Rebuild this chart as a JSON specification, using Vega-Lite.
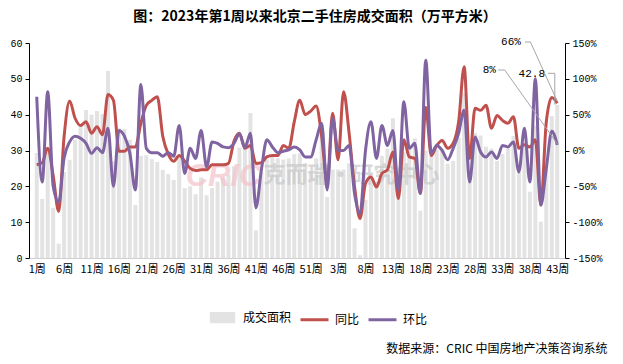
{
  "$schema": "https://vega.github.io/schema/vega-lite/v6.json",
  "width": 536,
  "height": 215,
  "autosize": {"type": "none"},
  "padding": {"left": 29, "top": 43, "right": 58, "bottom": 106},
  "background": "white",
  "title": {"text": "图：2023年第1周以来北京二手住房成交面积（万平方米）", "font": "Noto Sans CJK SC", "fontSize": 14, "fontWeight": "bold", "color": "#000000", "anchor": "middle", "frame": "group", "dx": 18, "offset": 12},
  "config": {"view": {"stroke": null}, "axis": {"grid": false}},
  "datasets": {
    "weeks": [
      {"i":1,"成交面积":29.3,"同比":-20,"环比":75},
      {"i":2,"成交面积":16.5,"同比":-17,"环比":-44},
      {"i":3,"成交面积":30.0,"同比":3,"环比":82},
      {"i":4,"成交面积":14.0,"同比":-35,"环比":-50},
      {"i":5,"成交面积":4.0,"同比":-85,"环比":-72},
      {"i":6,"成交面积":24.0,"同比":20,"环比":-10},
      {"i":7,"成交面积":27.4,"同比":69,"环比":12},
      {"i":8,"成交面积":33.0,"同比":45,"环比":20},
      {"i":9,"成交面积":37.0,"同比":35,"环比":17},
      {"i":10,"成交面积":41.3,"同比":40,"环比":10},
      {"i":11,"成交面积":40.0,"同比":24,"环比":-4},
      {"i":12,"成交面积":41.0,"同比":33,"环比":4},
      {"i":13,"成交面积":40.2,"同比":22,"环比":-3},
      {"i":14,"成交面积":52.2,"同比":78,"环比":31},
      {"i":15,"成交面积":27.0,"同比":70,"环比":-50},
      {"i":16,"成交面积":36.2,"同比":-1,"环比":28},
      {"i":17,"成交面积":36.0,"同比":-1,"环比":20},
      {"i":18,"成交面积":33.0,"同比":5,"环比":-4},
      {"i":19,"成交面积":14.8,"同比":5,"环比":-55},
      {"i":20,"成交面积":28.5,"同比":38,"环比":92},
      {"i":21,"成交面积":28.7,"同比":63,"环比":3},
      {"i":22,"成交面积":27.6,"同比":70,"环比":-3},
      {"i":23,"成交面积":26.8,"同比":75,"环比":-3},
      {"i":24,"成交面积":24.6,"同比":20,"环比":-8},
      {"i":25,"成交面积":23.4,"同比":-5,"环比":-3},
      {"i":26,"成交面积":21.8,"同比":-15,"环比":-8},
      {"i":27,"成交面积":28.5,"同比":-7,"环比":35},
      {"i":28,"成交面积":19.5,"同比":-15,"环比":-32},
      {"i":29,"成交面积":20.0,"同比":-25,"环比":3},
      {"i":30,"成交面积":17.8,"同比":-28,"环比":-11},
      {"i":31,"成交面积":22.5,"同比":-27,"环比":28},
      {"i":32,"成交面积":17.5,"同比":-27,"环比":-23},
      {"i":33,"成交面积":19.5,"同比":-20,"环比":12},
      {"i":34,"成交面积":21.3,"同比":-20,"环比":10},
      {"i":35,"成交面积":22.4,"同比":-20,"环比":5},
      {"i":36,"成交面积":23.3,"同比":-18,"环比":4},
      {"i":37,"成交面积":25.6,"同比":13,"环比":10},
      {"i":38,"成交面积":30.8,"同比":24,"环比":23},
      {"i":39,"成交面积":32.5,"同比":3,"环比":4},
      {"i":40,"成交面积":40.5,"同比":7,"环比":24},
      {"i":41,"成交面积":7.7,"同比":-18,"环比":-80},
      {"i":42,"成交面积":24.0,"同比":-17,"环比":-27},
      {"i":43,"成交面积":27.5,"同比":-9,"环比":15},
      {"i":44,"成交面积":28.5,"同比":-7,"环比":5},
      {"i":45,"成交面积":27.8,"同比":-7,"环比":-3},
      {"i":46,"成交面积":27.5,"同比":7,"环比":-1},
      {"i":47,"成交面积":27.8,"同比":3,"环比":1},
      {"i":48,"成交面积":29.0,"同比":40,"环比":5},
      {"i":49,"成交面积":29.2,"同比":70,"环比":1},
      {"i":50,"成交面积":26.5,"同比":50,"环比":-9},
      {"i":51,"成交面积":24.2,"同比":55,"环比":-9},
      {"i":52,"成交面积":27.8,"同比":62,"环比":15},
      {"i":53,"成交面积":36.0,"同比":20,"环比":38},
      {"i":54,"成交面积":17.0,"同比":-45,"环比":-55},
      {"i":55,"成交面积":24.7,"同比":52,"环比":45},
      {"i":56,"成交面积":24.7,"同比":-13,"环比":0},
      {"i":57,"成交面积":24.7,"同比":82,"环比":0},
      {"i":58,"成交面积":26.4,"同比":25,"环比":7},
      {"i":59,"成交面积":8.3,"同比":-50,"环比":-60},
      {"i":60,"成交面积":0.8,"同比":-95,"环比":-88},
      {"i":61,"成交面积":16.2,"同比":-46,"环比":0},
      {"i":62,"成交面积":23.5,"同比":-37,"环比":40},
      {"i":63,"成交面积":21.0,"同比":-51,"环比":-11},
      {"i":64,"成交面积":28.5,"同比":-32,"环比":35},
      {"i":65,"成交面积":30.5,"同比":-27,"环比":7},
      {"i":66,"成交面积":39.0,"同比":-2,"环比":28},
      {"i":67,"成交面积":17.6,"同比":-67,"环比":-55},
      {"i":68,"成交面积":29.5,"同比":15,"环比":68},
      {"i":69,"成交面积":30.4,"同比":-9,"环比":3},
      {"i":70,"成交面积":33.4,"同比":-11,"环比":10},
      {"i":71,"成交面积":13.2,"同比":-60,"环比":-60},
      {"i":72,"成交面积":30.0,"同比":60,"环比":126},
      {"i":73,"成交面积":28.5,"同比":-7,"环比":-4},
      {"i":74,"成交面积":30.2,"同比":7,"环比":7},
      {"i":75,"成交面积":30.2,"同比":14,"环比":0},
      {"i":76,"成交面积":26.3,"同比":3,"环比":-13},
      {"i":77,"成交面积":27.1,"同比":10,"环比":3},
      {"i":78,"成交面积":33.6,"同比":40,"环比":24},
      {"i":79,"成交面积":46.0,"同比":117,"环比":56},
      {"i":80,"成交面积":29.3,"同比":-11,"环比":-44},
      {"i":81,"成交面积":34.9,"同比":59,"环比":19},
      {"i":82,"成交面积":34.2,"同比":56,"环比":-2},
      {"i":83,"成交面积":31.1,"同比":63,"环比":-9},
      {"i":84,"成交面积":30.5,"同比":31,"环比":-2},
      {"i":85,"成交面积":27.1,"同比":49,"环比":-11},
      {"i":86,"成交面积":29.0,"同比":42,"环比":7},
      {"i":87,"成交面积":30.5,"同比":38,"环比":5},
      {"i":88,"成交面积":34.1,"同比":47,"环比":12},
      {"i":89,"成交面积":23.9,"同比":3,"环比":-30},
      {"i":90,"成交面积":31.3,"同比":8,"环比":31},
      {"i":91,"成交面积":18.5,"同比":5,"环比":-44},
      {"i":92,"成交面积":37.0,"同比":15,"环比":100},
      {"i":93,"成交面积":10.1,"同比":-76,"环比":-76},
      {"i":94,"成交面积":27.0,"同比":40,"环比":-25},
      {"i":95,"成交面积":39.6,"同比":74,"环比":27},
      {"i":96,"成交面积":42.8,"同比":66,"环比":8}
    ],
    "labels": [
      {"i": 87.55, "pct": 151.4, "t": "66%"},
      {"i": 83.6, "pct": 112.3, "t": "8%"},
      {"i": 91.35, "pct": 106.3, "t": "42.8"}
    ],
    "leaders": [
      {"i": 90.1, "i2": 91.1, "pct": 151.4, "pct2": 151.4},
      {"i": 91.1, "i2": 96.05, "pct": 151.4, "pct2": 68},
      {"i": 85.2, "i2": 86.4, "pct": 112.3, "pct2": 112.3},
      {"i": 86.4, "i2": 96.05, "pct": 112.3, "pct2": 9},
      {"i": 94.3, "i2": 95.55, "pct": 107.7, "pct2": 107.7},
      {"i": 95.55, "i2": 95.55, "pct": 107.7, "pct2": 64}
    ],
    "mark1": [{"i": 35.1, "pct": -37, "t": "CRIC"}],
    "mark2": [{"i": 42.4, "pct": -34, "t": "克而瑞·研究中心"}]
  },
  "data": {"name": "weeks"},
  "encoding": {
    "x": {
      "field": "i", "type": "quantitative",
      "scale": {"domain": [0.5, 96.5], "nice": false, "zero": false},
      "axis": {
        "values": [1,6,11,16,21,26,31,36,41,46,51,56,61,66,71,76,81,86,91,96],
        "labelExpr": "datum.value <= 53 ? datum.value + '周' : (datum.value - 53) + '周'",
        "ticks": false, "domainColor": "#d0d0d0", "labelColor": "#000000",
        "labelFont": "Noto Sans CJK SC", "labelFontSize": 11, "labelPadding": 5,
        "labelFlush": false, "labelOverlap": false,
        "title": "数据来源：CRIC 中国房地产决策咨询系统",
        "titleX": 578, "titleY": 90, "titleAlign": "right", "titleBaseline": "middle",
        "titleFont": "Noto Sans CJK SC", "titleFontSize": 12, "titleFontWeight": "normal", "titleColor": "#000000"
      }
    }
  },
  "layer": [
    {
      "mark": {"type": "bar", "size": 4},
      "encoding": {
        "y": {
          "field": "成交面积", "type": "quantitative",
          "scale": {"domain": [0, 60], "nice": false, "zero": true},
          "axis": {"orient": "left", "values": [0,10,20,30,40,50,60], "title": null, "tickSize": 4,
                   "domainColor": "#000000", "tickColor": "#000000", "labelColor": "#000000",
                   "labelFont": "Liberation Mono", "labelFontSize": 10, "labelPadding": 3}
        },
        "color": {
          "datum": "成交面积", "type": "nominal",
          "scale": {"domain": ["成交面积", "同比", "环比"], "range": ["#e3e3e3", "#c0504d", "#8064a2"]},
          "legend": {
            "orient": "none", "legendX": 178, "legendY": 259, "direction": "horizontal",
            "title": null, "labelFont": "Noto Sans CJK SC", "labelFontSize": 12, "labelColor": "#000000",
            "symbolSize": 784, "columnPadding": 2, "labelOffset": 5,
            "encode": {
              "symbols": {
                "update": {
                  "shape": {"signal": "datum.label === '成交面积' ? 'M-0.8,-0.3H0.8V0.3H-0.8Z' : 'M-1,0H1'"},
                  "fill": {"signal": "datum.label === '成交面积' ? '#e3e3e3' : 'transparent'"},
                  "stroke": {"signal": "datum.label === '成交面积' ? 'transparent' : (datum.label === '同比' ? '#c0504d' : '#8064a2')"},
                  "strokeWidth": {"value": 3},
                  "size": {"value": 784},
                  "opacity": {"value": 1}
                }
              }
            }
          }
        }
      }
    },
    {
      "layer": [
        {
          "data": {"name": "mark1"},
          "mark": {"type": "text", "font": "Liberation Sans", "fontSize": 31, "fontWeight": "bold", "fontStyle": "italic", "color": "#f4c3ca", "opacity": 0.7, "align": "center", "baseline": "middle"},
          "encoding": {
            "y": {"field": "pct", "type": "quantitative", "scale": {"domain": [-150, 150], "nice": false},
                  "axis": {"orient": "right", "values": [-150,-100,-50,0,50,100,150], "labelExpr": "datum.value + '%'", "title": null, "tickSize": 4,
                           "domainColor": "#000000", "tickColor": "#000000", "labelColor": "#000000",
                           "labelFont": "Liberation Mono", "labelFontSize": 10, "labelPadding": 3}},
            "text": {"field": "t"}
          }
        },
        {
          "data": {"name": "mark2"},
          "mark": {"type": "text", "font": "Noto Sans CJK SC", "fontSize": 22, "fontWeight": "bold", "color": "#c8c8c8", "opacity": 0.7, "align": "left", "baseline": "middle"},
          "encoding": {
            "y": {"field": "pct", "type": "quantitative", "scale": {"domain": [-150, 150], "nice": false},
                  "axis": {"orient": "right", "values": [-150,-100,-50,0,50,100,150], "labelExpr": "datum.value + '%'", "title": null, "tickSize": 4,
                           "domainColor": "#000000", "tickColor": "#000000", "labelColor": "#000000",
                           "labelFont": "Liberation Mono", "labelFontSize": 10, "labelPadding": 3}},
            "text": {"field": "t"}
          }
        },
        {
          "mark": {"type": "line", "strokeWidth": 3, "interpolate": "monotone"},
          "encoding": {
            "y": {"field": "同比", "type": "quantitative", "scale": {"domain": [-150, 150], "nice": false},
                  "axis": {"orient": "right", "values": [-150,-100,-50,0,50,100,150], "labelExpr": "datum.value + '%'", "title": null, "tickSize": 4,
                           "domainColor": "#000000", "tickColor": "#000000", "labelColor": "#000000",
                           "labelFont": "Liberation Mono", "labelFontSize": 10, "labelPadding": 3}},
            "color": {"datum": "同比", "type": "nominal"}
          }
        },
        {
          "mark": {"type": "line", "strokeWidth": 3, "interpolate": "monotone"},
          "encoding": {
            "y": {"field": "环比", "type": "quantitative", "scale": {"domain": [-150, 150], "nice": false},
                  "axis": {"orient": "right", "values": [-150,-100,-50,0,50,100,150], "labelExpr": "datum.value + '%'", "title": null, "tickSize": 4,
                           "domainColor": "#000000", "tickColor": "#000000", "labelColor": "#000000",
                           "labelFont": "Liberation Mono", "labelFontSize": 10, "labelPadding": 3}},
            "color": {"datum": "环比", "type": "nominal"}
          }
        },
        {
          "data": {"name": "leaders"},
          "mark": {"type": "rule", "color": "#a6a6a6", "strokeWidth": 1},
          "encoding": {
            "x2": {"field": "i2"},
            "y": {"field": "pct", "type": "quantitative", "scale": {"domain": [-150, 150], "nice": false},
                  "axis": {"orient": "right", "values": [-150,-100,-50,0,50,100,150], "labelExpr": "datum.value + '%'", "title": null, "tickSize": 4,
                           "domainColor": "#000000", "tickColor": "#000000", "labelColor": "#000000",
                           "labelFont": "Liberation Mono", "labelFontSize": 10, "labelPadding": 3}},
            "y2": {"field": "pct2"}
          }
        },
        {
          "data": {"name": "labels"},
          "mark": {"type": "text", "font": "Liberation Mono", "fontSize": 11, "color": "#000000", "align": "center", "baseline": "middle"},
          "encoding": {
            "y": {"field": "pct", "type": "quantitative", "scale": {"domain": [-150, 150], "nice": false},
                  "axis": {"orient": "right", "values": [-150,-100,-50,0,50,100,150], "labelExpr": "datum.value + '%'", "title": null, "tickSize": 4,
                           "domainColor": "#000000", "tickColor": "#000000", "labelColor": "#000000",
                           "labelFont": "Liberation Mono", "labelFontSize": 10, "labelPadding": 3}},
            "text": {"field": "t"}
          }
        }
      ]
    }
  ],
  "resolve": {"scale": {"y": "independent"}}
}
